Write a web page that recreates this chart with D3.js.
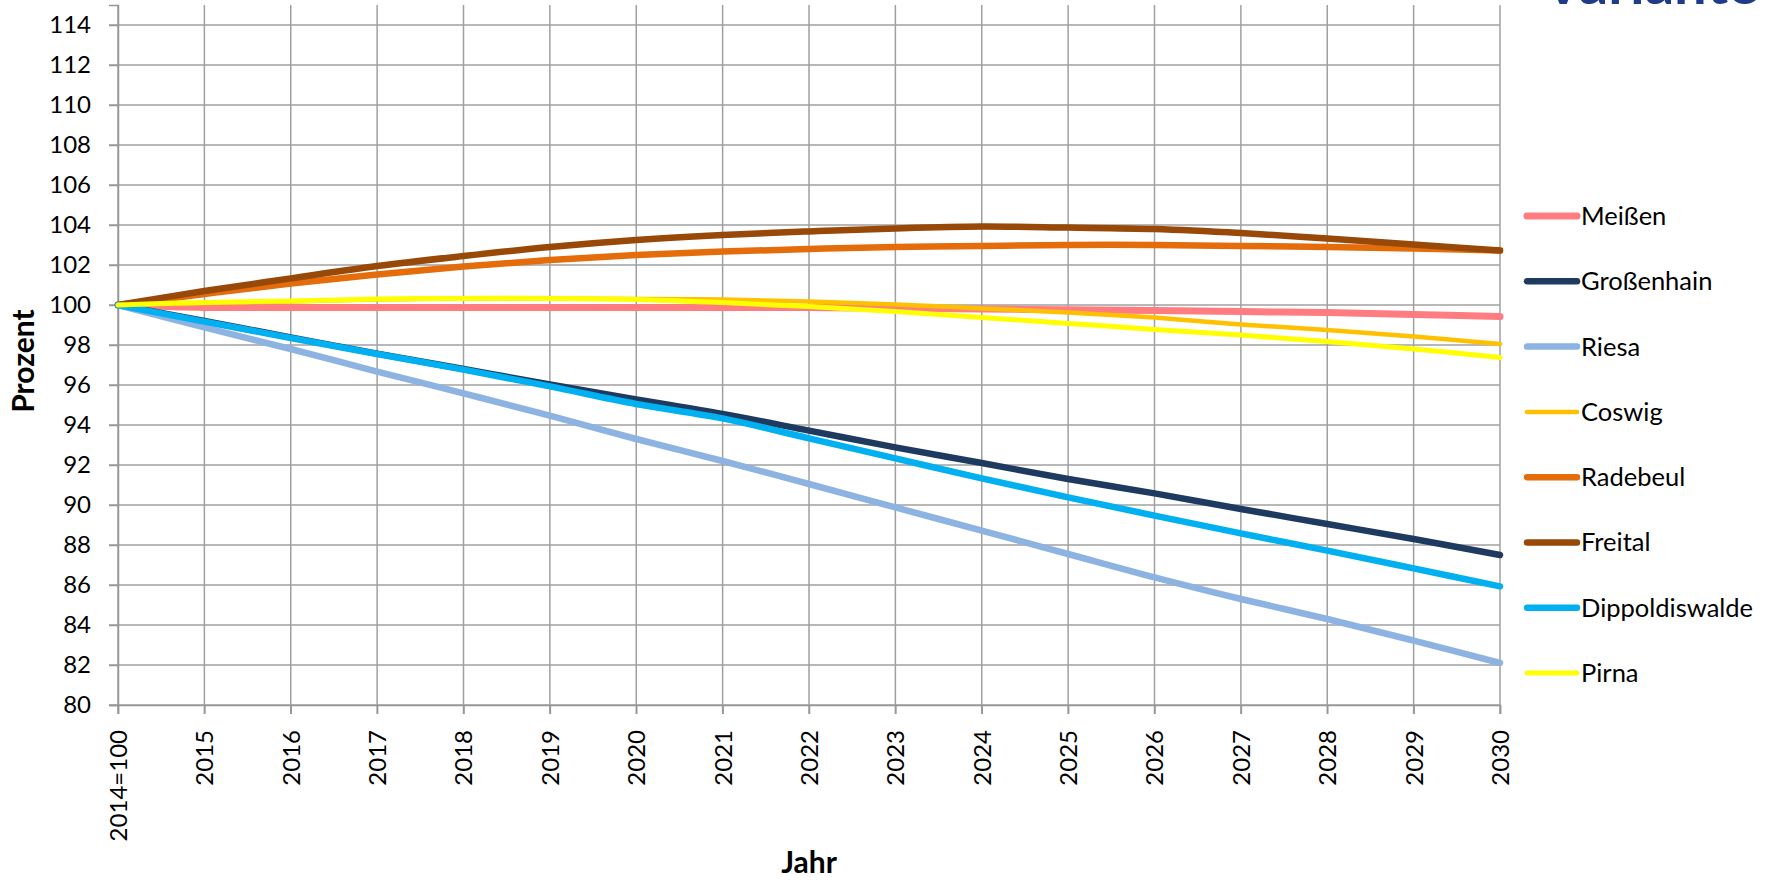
<!DOCTYPE html>
<html>
<head>
<meta charset="utf-8">
<script src="https://cdn.jsdelivr.net/npm/d3@7"></script>
<style>
  html, body { margin: 0; padding: 0; background: #fff; }
  svg { display: block; }
  text { font-family: Lato, "Open Sans", sans-serif; fill: #000; }
</style>
</head>
<body>
<svg id="chart" width="1775" height="882"></svg>
<script>
// ---- data ----
const categories = ["2014=100","2015","2016","2017","2018","2019","2020","2021","2022","2023","2024","2025","2026","2027","2028","2029","2030"];
const meissen        = [100, 99.88, 99.88, 99.88, 99.88, 99.88, 99.88, 99.88, 99.87, 99.84, 99.8, 99.76, 99.72, 99.67, 99.62, 99.53, 99.42];
const grossenhain    = [100, 99.2, 98.38, 97.57, 96.8, 96.03, 95.28, 94.55, 93.72, 92.88, 92.1, 91.3, 90.58, 89.8, 89.05, 88.3, 87.5];
const riesa          = [100, 98.88, 97.8, 96.67, 95.58, 94.47, 93.3, 92.2, 91.05, 89.88, 88.72, 87.55, 86.38, 85.3, 84.3, 83.22, 82.1];
const coswig         = [100, 100.1, 100.18, 100.28, 100.32, 100.33, 100.3, 100.27, 100.17, 100.03, 99.83, 99.63, 99.37, 99.03, 98.75, 98.42, 98.05];
const radebeul       = [100, 100.55, 101.07, 101.52, 101.92, 102.25, 102.5, 102.67, 102.8, 102.9, 102.95, 103.0, 103.0, 102.95, 102.9, 102.83, 102.72];
const freital        = [100, 100.7, 101.33, 101.95, 102.45, 102.9, 103.25, 103.5, 103.68, 103.83, 103.92, 103.87, 103.8, 103.6, 103.32, 103.03, 102.72];
const dippoldiswalde = [100, 99.17, 98.35, 97.55, 96.77, 95.93, 95.05, 94.33, 93.33, 92.33, 91.33, 90.38, 89.47, 88.58, 87.72, 86.83, 85.93];
const pirna          = [100, 100.13, 100.2, 100.3, 100.33, 100.33, 100.28, 100.12, 99.92, 99.67, 99.38, 99.08, 98.78, 98.5, 98.17, 97.8, 97.38];

const seriesNames  = ["Meißen","Großenhain","Riesa","Coswig","Radebeul","Freital","Dippoldiswalde","Pirna"];
const seriesValues = [meissen, grossenhain, riesa, coswig, radebeul, freital, dippoldiswalde, pirna];
const seriesColors = ["#FF7C80","#1F3A60","#8DB3E2","#FFC000","#E46C0A","#984807","#00B0F0","#FFFF00"];
const seriesWidths = [7, 6.5, 6.5, 4.5, 6.5, 6.5, 6.5, 5];

const yTicks = d3.range(80, 115, 2);

// ---- layout ----
const plot = { left: 118, right: 1500, top: 5, bottom: 705 };
const svg = d3.select("#chart");

const x = d3.scalePoint().domain(categories).range([plot.left, plot.right]).padding(0);
const y = d3.scaleLinear().domain([80, 115]).range([plot.bottom, plot.top]);

// clipped heading at top right (cut off in the original as well)
svg.append("text")
  .attr("x", 1543).attr("y", 4)
  .style("font-size", "58px").style("font-weight", "bold")
  .style("fill", "#1F3C88")
  .text("Variante");

// gridlines
const grid = svg.append("g");
grid.selectAll("line.h").data(yTicks).join("line")
  .attr("x1", plot.left - 9).attr("x2", plot.right)
  .attr("y1", d => y(d)).attr("y2", d => y(d))
  .attr("stroke", "#a0a0a0").attr("stroke-width", 1.5);
grid.selectAll("line.v").data(categories).join("line")
  .attr("x1", d => x(d)).attr("x2", d => x(d))
  .attr("y1", plot.top).attr("y2", plot.bottom + 9)
  .attr("stroke", "#a0a0a0").attr("stroke-width", 1.5);

// y axis
const yAxis = d3.axisLeft(y).tickValues(yTicks).tickSize(9).tickPadding(18).tickFormat(d3.format("d"));
const gy = svg.append("g").attr("transform", `translate(${plot.left},0)`).call(yAxis);
gy.select(".domain").attr("stroke", "#969696").attr("stroke-width", 1.5);
gy.selectAll(".tick line").attr("stroke", "#969696").attr("stroke-width", 1.5);
gy.selectAll(".tick text").style("font-size", "24px").style("font-family", "Lato").attr("fill", "#000");

// x axis
const xAxis = d3.axisBottom(x).tickSize(9).tickPadding(0);
const gx = svg.append("g").attr("transform", `translate(0,${plot.bottom})`).call(xAxis);
gx.select(".domain").attr("stroke", "#969696").attr("stroke-width", 1.5);
gx.selectAll(".tick line").attr("stroke", "#969696").attr("stroke-width", 1.5);
gx.selectAll(".tick text")
  .style("font-size", "24px").style("font-family", "Lato").attr("fill", "#000")
  .attr("transform", "rotate(-90)")
  .attr("text-anchor", "end")
  .attr("x", -25).attr("y", 0).attr("dy", "0.35em");

// axis titles
svg.append("text")
  .attr("x", (plot.left + plot.right) / 2).attr("y", 873)
  .attr("text-anchor", "middle")
  .style("font-size", "30px").style("font-weight", "bold")
  .text("Jahr");
svg.append("text")
  .attr("transform", `translate(34,${(plot.top + plot.bottom) / 2 + 6}) rotate(-90)`)
  .attr("text-anchor", "middle")
  .style("font-size", "30px").style("font-weight", "bold")
  .text("Prozent");

// lines
const line = d3.line()
  .x((d, i) => x(categories[i]))
  .y(d => y(d))
  .curve(d3.curveCatmullRom.alpha(0.5));

svg.append("g").selectAll("path").data(seriesValues).join("path")
  .attr("d", d => line(d))
  .attr("fill", "none")
  .attr("stroke", (d, i) => seriesColors[i])
  .attr("stroke-width", (d, i) => seriesWidths[i])
  .attr("stroke-linejoin", "round")
  .attr("stroke-linecap", "round");

// legend
const legend = svg.append("g");
const leg = legend.selectAll("g").data(seriesNames).join("g")
  .attr("transform", (d, i) => `translate(1527,${216 + i * 65.3})`);
leg.append("line")
  .attr("x1", 0).attr("x2", 50).attr("y1", 0).attr("y2", 0)
  .attr("stroke", (d, i) => seriesColors[i])
  .attr("stroke-width", (d, i) => seriesWidths[i])
  .attr("stroke-linecap", "round");
leg.append("text")
  .attr("x", 54).attr("y", 0).attr("dy", "0.35em")
  .style("font-size", "25.5px")
  .text(d => d);
</script>
</body>
</html>
